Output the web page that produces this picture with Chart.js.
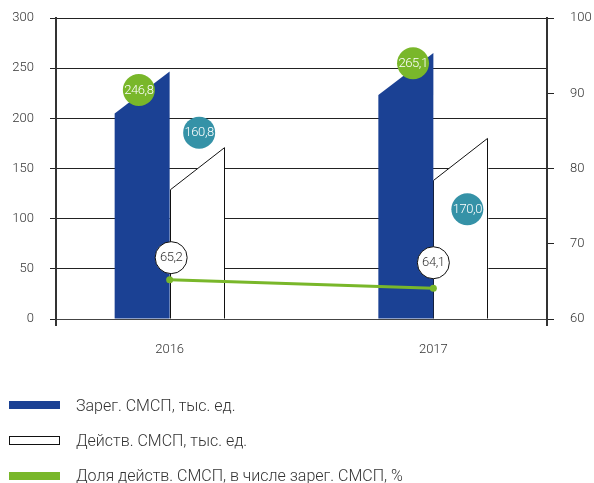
<!DOCTYPE html>
<html><head><meta charset="utf-8">
<script src="https://cdn.jsdelivr.net/npm/chart.js@4.4.0/dist/chart.umd.min.js"></script>
<style>
html,body{margin:0;padding:0;background:#fff;}
#wrap{position:relative;width:594px;height:483px;}
#legend{position:absolute;left:0;top:0;width:594px;height:483px;pointer-events:none;font-family:Roboto, sans-serif;font-weight:300;font-size:16px;color:#333;}
.item{position:absolute;left:9px;height:20px;display:flex;align-items:center;white-space:nowrap;}
.sw{width:51px;height:8px;box-sizing:border-box;margin-right:16px;flex:none;}
</style></head>
<body><div id="wrap"><canvas id="c" width="594" height="483"></canvas><div id="legend"></div></div>
<script>
// ---- data ----
const years = ['2016', '2017'];
const registered = [246.8, 265.1];      // Зарег. СМСП, тыс. ед.
const active = [160.8, 170.0];          // Действ. СМСП, тыс. ед.
const activeShare = [65.2, 64.1];       // Доля, %
const seriesNames = ['Зарег. СМСП, тыс. ед.', 'Действ. СМСП, тыс. ед.', 'Доля действ. СМСП, в числе зарег. СМСП, %'];
const leftTickRange = [0, 300, 50];
const rightTickRange = [60, 100, 10];

// ---- style ----
const BLUE = '#1b4194', GREEN = '#79b72a', TEAL = '#3592a7', INK = '#333';
const SLANT = 42;
const X_MIN = -0.431, X_MAX = 1.431;
const labelStyle = [
  { bg: GREEN, fg: '#fff', border: null, offsets: [[-3.3, 18.6], [7.2, 10.2]] },
  { bg: TEAL, fg: '#fff', border: null, offsets: [[2, -25], [6.5, 60.8]] },
  { bg: '#fff', fg: '#333', border: '#111', offsets: [[1.5, -22.2], [0, -25.4]] }
];

const fmt = v => v.toFixed(1).replace('.', ',');
const pts = arr => arr.map((v, i) => ({ x: i, y: v }));

const slantBars = {
  id: 'slantBars',
  beforeDatasetDraw(chart, args) {
    const ds = chart.data.datasets[args.index];
    if (ds.type !== 'bar') return;
    const ctx = chart.ctx;
    const lift = ds.topLift || 0;
    ctx.save();
    args.meta.data.forEach(el => {
      const p = el.getProps(['x', 'y', 'base', 'width'], true);
      const l = p.x - p.width / 2, r = p.x + p.width / 2;
      const yTop = p.y - lift;
      ctx.beginPath();
      ctx.moveTo(l, p.base);
      ctx.lineTo(l, yTop + SLANT);
      ctx.lineTo(r, yTop);
      ctx.lineTo(r, p.base);
      ctx.closePath();
      ctx.fillStyle = ds.backgroundColor;
      ctx.fill();
      if (ds.borderWidth) {
        ctx.beginPath();
        ctx.moveTo(Math.round(l) + 0.5, p.base);
        ctx.lineTo(Math.round(l) + 0.5, yTop + SLANT);
        ctx.lineTo(Math.round(r) - 0.5, yTop);
        ctx.lineTo(Math.round(r) - 0.5, p.base);
        ctx.lineWidth = ds.borderWidth;
        ctx.strokeStyle = ds.borderColor;
        ctx.stroke();
      }
    });
    ctx.restore();
    return false;
  }
};

const bubbleLabels = {
  id: 'bubbleLabels',
  afterDatasetsDraw(chart) {
    const ctx = chart.ctx;
    ctx.save();
    chart.data.datasets.forEach((ds, di) => {
      const st = labelStyle[di];
      chart.getDatasetMeta(di).data.forEach((el, i) => {
        const cx = el.x + st.offsets[i][0], cy = el.y + st.offsets[i][1];
        ctx.beginPath();
        ctx.arc(cx, cy, 16, 0, Math.PI * 2);
        ctx.fillStyle = st.bg;
        ctx.fill();
        if (st.border) { ctx.lineWidth = 1; ctx.strokeStyle = st.border; ctx.stroke(); }
        ctx.fillStyle = st.fg;
        ctx.font = '300 13px Roboto';
        try { ctx.letterSpacing = '-0.4px'; } catch (e) {}
        ctx.textAlign = 'center';
        ctx.textBaseline = 'middle';
        ctx.fillText(fmt(ds.data[i].y), cx, cy + 0.5);
      });
    });
    ctx.restore();
  }
};

const htmlLegend = {
  id: 'htmlLegend',
  afterUpdate(chart) {
    const box = document.getElementById('legend');
    box.innerHTML = '';
    const centers = [405, 440, 475.5];
    chart.data.datasets.forEach((ds, i) => {
      const item = document.createElement('div');
      item.className = 'item';
      item.style.top = (centers[i] - 10) + 'px';
      const sw = document.createElement('span');
      sw.className = 'sw';
      if (ds.type === 'line') { sw.style.background = ds.borderColor; }
      else if (ds.borderWidth) { sw.style.background = '#fff'; sw.style.border = '1px solid #111'; sw.style.height = '9px'; }
      else { sw.style.background = ds.backgroundColor; }
      const t = document.createElement('span');
      t.textContent = ds.label;
      item.appendChild(sw); item.appendChild(t);
      box.appendChild(item);
    });
  }
};

const tickFont = { family: 'Roboto', size: 13, weight: 300 };
const noPad = s => { s.paddingTop = 0; s.paddingBottom = 0; s.paddingLeft = 0; s.paddingRight = 0; };

new Chart(document.getElementById('c'), {
  data: {
    datasets: [
      { type: 'bar', label: seriesNames[0], data: pts(registered), backgroundColor: BLUE, borderWidth: 0, barThickness: 55, yAxisID: 'y', order: 1 },
      { type: 'bar', label: seriesNames[1], data: pts(active), backgroundColor: '#fff', borderColor: '#111', borderWidth: 1, barThickness: 55, topLift: 10, yAxisID: 'y', order: 2 },
      { type: 'line', label: seriesNames[2], data: pts(activeShare), borderColor: GREEN, backgroundColor: GREEN, borderWidth: 3, pointRadius: 3.5, pointBorderWidth: 0, pointBackgroundColor: GREEN, yAxisID: 'y1', order: 0 }
    ]
  },
  options: {
    responsive: false,
    animation: false,
    layout: { padding: { top: 18, left: 0, right: 0, bottom: 0 } },
    plugins: { legend: { display: false }, tooltip: { enabled: false } },
    scales: {
      x: {
        type: 'linear', min: X_MIN, max: X_MAX, bounds: 'data', offset: false,
        afterBuildTicks: s => { s.ticks = [{ value: X_MIN }, ...years.map((y, i) => ({ value: i })), { value: X_MAX }]; },
        afterFit: s => { s.height = 483 - 319; noPad(s); },
        ticks: { autoSkip: false, maxRotation: 0, padding: 16, color: INK, font: tickFont, callback: v => (years[v] !== undefined && Number.isInteger(v)) ? years[v] : '' },
        grid: { offset: false, drawOnChartArea: false, tickLength: 7, lineWidth: 2, color: c => (c.tick && (c.tick.value === X_MIN || c.tick.value === X_MAX)) ? INK : 'rgba(0,0,0,0)' },
        border: { display: true, color: '#444', width: 1 }
      },
      y: {
        position: 'left', min: leftTickRange[0], max: leftTickRange[1],
        afterFit: s => { s.width = 56; noPad(s); },
        ticks: { stepSize: leftTickRange[2], padding: 16, color: INK, font: tickFont },
        grid: { color: '#222', lineWidth: 1, tickLength: 6 },
        border: { display: true, color: INK, width: 2 }
      },
      y1: {
        position: 'right', min: rightTickRange[0], max: rightTickRange[1],
        afterFit: s => { s.width = 47; noPad(s); },
        ticks: { stepSize: rightTickRange[2], padding: 16, color: INK, font: tickFont },
        grid: { drawOnChartArea: false, color: '#222', lineWidth: 1, tickLength: 7 },
        border: { display: true, color: INK, width: 2 }
      }
    }
  },
  plugins: [slantBars, bubbleLabels, htmlLegend]
});
</script>
</body></html>
